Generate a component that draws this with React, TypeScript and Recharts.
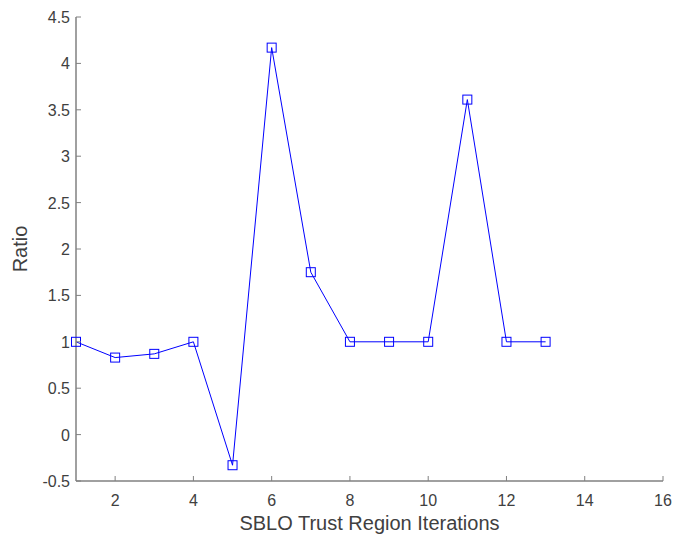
import React from 'react';
import { LineChart, Line, XAxis, YAxis } from 'recharts';

const iterations = [1, 2, 3, 4, 5, 6, 7, 8, 9, 10, 11, 12, 13];
const ratios = [1.0, 0.83, 0.87, 1.0, -0.33, 4.17, 1.75, 1.0, 1.0, 1.0, 3.61, 1.0, 1.0];
const xTicks = [2, 4, 6, 8, 10, 12, 14, 16];
const yTicks = [-0.5, 0, 0.5, 1, 1.5, 2, 2.5, 3, 3.5, 4, 4.5];

const data = iterations.map((it, i) => ({ iter: it, ratio: ratios[i] }));

const AXIS = '#808080';
const TEXT = '#404040';
const FONT = '"Liberation Sans", Arial, sans-serif';

// inward tick marks, like MATLAB axes
const XTick = (props: any) => {
  const { x, y, payload } = props;
  return (
    <g>
      <line x1={x} x2={x} y1={y} y2={y - 5} stroke={AXIS} strokeWidth={1} />
      <text x={x} y={y + 25} textAnchor="middle" fill={TEXT} fontSize={16} fontFamily={FONT}>
        {payload.value}
      </text>
    </g>
  );
};

const YTick = (props: any) => {
  const { x, y, payload } = props;
  return (
    <g>
      <line x1={x} x2={x + 5} y1={y} y2={y} stroke={AXIS} strokeWidth={1} />
      <text x={x - 6} y={y + 6} textAnchor="end" fill={TEXT} fontSize={16} fontFamily={FONT}>
        {payload.value}
      </text>
    </g>
  );
};

const SquareDot = (props: any) => {
  const { cx, cy, index } = props;
  if (cx == null || cy == null) return null;
  return <rect key={`sq-${index}`} x={cx - 4.5} y={cy - 4.5} width={9} height={9} fill="none" stroke="#0000ff" strokeWidth={1} />;
};

const YLabel = (props: any) => {
  const { viewBox } = props;
  const cx = viewBox.x + 20;
  const cy = viewBox.y + viewBox.height / 2;
  return (
    <text x={cx} y={cy} transform={`rotate(-90, ${cx}, ${cy})`} textAnchor="middle" dominantBaseline="central" fill={TEXT} fontSize={20} fontFamily={FONT}>
      Ratio
    </text>
  );
};

const XLabel = (props: any) => {
  const { viewBox } = props;
  return (
    <text x={viewBox.x + viewBox.width / 2} y={viewBox.y + 49} textAnchor="middle" fill={TEXT} fontSize={20} fontFamily={FONT}>
      SBLO Trust Region Iterations
    </text>
  );
};

export default function App() {
  return (
    <div style={{ position: 'absolute', left: 0, top: 0, width: 673, height: 538, background: '#fff' }}>
      <LineChart width={673} height={538} data={data} margin={{ top: 17, right: 10, left: 0, bottom: 0 }}>
        <XAxis
          dataKey="iter"
          type="number"
          domain={[1, 16]}
          ticks={xTicks}
          interval={0}
          height={57}
          tickSize={0}
          tickMargin={0}
          tickLine={false}
          axisLine={{ stroke: AXIS, strokeWidth: 1.5 }}
          tick={<XTick />}
          label={<XLabel />}
        />
        <YAxis
          type="number"
          domain={[-0.5, 4.5]}
          ticks={yTicks}
          interval={0}
          width={76}
          tickSize={0}
          tickMargin={0}
          tickLine={false}
          axisLine={{ stroke: AXIS, strokeWidth: 1.5 }}
          tick={<YTick />}
          label={<YLabel />}
        />
        <Line
          dataKey="ratio"
          type="linear"
          stroke="#0000ff"
          strokeWidth={1}
          dot={<SquareDot />}
          activeDot={false}
          isAnimationActive={false}
        />
      </LineChart>
    </div>
  );
}
